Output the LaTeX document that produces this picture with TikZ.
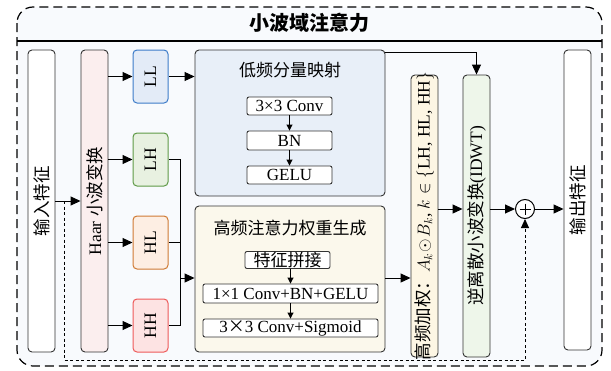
\documentclass[tikz,border=0pt]{standalone}
\usepackage{fontspec}
\setmainfont{Liberation Serif}
\newfontfamily\cjk{Noto Sans CJK SC}
\usetikzlibrary{arrows.meta,calc}
\definecolor{bgc}{HTML}{F8FAFD}
\definecolor{haarc}{HTML}{FBEEEE}
\definecolor{llf}{HTML}{E3EBF7}\definecolor{lld}{HTML}{3D7CC9}
\definecolor{lhf}{HTML}{E8F1E1}\definecolor{lhd}{HTML}{5F9A46}
\definecolor{hlf}{HTML}{FDEEE3}\definecolor{hld}{HTML}{CF7A34}
\definecolor{hhf}{HTML}{FDE3E3}\definecolor{hhd}{HTML}{EE5A5A}
\definecolor{lowf}{HTML}{E8EFF8}
\definecolor{highf}{HTML}{FBF8EC}
\definecolor{wtf}{HTML}{FDF6E4}
\definecolor{idf}{HTML}{EEF6EA}
\definecolor{edge}{HTML}{333333}
\begin{document}
\begin{tikzpicture}[x=1pt,y=-1pt,
  txt/.style={font=\fontsize{17}{20}\selectfont},
  basebox/.style={draw=edge, line width=0.9pt, rounded corners=4pt, inner sep=0pt},
  vbox/.style={basebox, minimum width=27pt, minimum height=#1},
  vlab/.style={rotate=90, font=\fontsize{17.5}{20}\selectfont, inner sep=0pt},
  subband/.style={basebox, line width=1pt, minimum width=35pt, minimum height=53pt},
  bigbox/.style={basebox, minimum width=190pt, minimum height=146pt},
  opbox/.style={basebox, rounded corners=2pt, fill=white, font=\fontsize{17}{19}\selectfont},
  arr/.style={-{Triangle[length=10pt,width=9pt]}, line width=1pt, draw=black},
  sarr/.style={-{Triangle[length=6pt,width=6pt]}, line width=0.9pt, draw=black},
  skip/.style={dash pattern=on 3pt off 2.5pt, line width=0.9pt}
]
\useasboundingbox (0,0) rectangle (611,370);
% frame
\draw[fill=bgc, draw=black, line width=1.2pt, dash pattern=on 9pt off 5pt, rounded corners=16pt]
  (17,7) rectangle (602,366);
\draw[line width=1.2pt] (17,41) -- (602,41);
\node[font=\cjk\bfseries\fontsize{20}{24}\selectfont] (title) at (309.5,23) {小波域注意力};

% input / haar / output
\node[vbox=302pt, fill=white, label={[vlab]center:{\cjk 输入特征}}] (in) at (41.5,201) {};
\node[vbox=302pt, fill=haarc, label={[vlab]center:{Haar {\cjk 小波变换}}}] (haar) at (94.5,201) {};
\node[vbox=300pt, fill=white, label={[vlab]center:{\cjk 输出特征}}] (out) at (577.5,200) {};

% subbands
\node[subband, draw=lld, fill=llf, label={[vlab]center:LL}] (ll) at (150.5,76.5) {};
\node[subband, draw=lhd, fill=lhf, label={[vlab]center:LH}] (lh) at (150.5,159.5) {};
\node[subband, draw=hld, fill=hlf, label={[vlab]center:HL}] (hl) at (150.5,242.5) {};
\node[subband, draw=hhd, fill=hhf, label={[vlab]center:HH}] (hh) at (150.5,325.5) {};

% low-frequency block
\node[bigbox, fill=lowf] (low) at (290,123) {};
\node[font=\cjk\fontsize{17}{20}\selectfont] (lowt) at (290,70) {低频分量映射};
\node[opbox, minimum width=85pt, minimum height=18pt] (c1) at (289.5,106) {3×3 Conv};
\node[opbox, minimum width=85pt, minimum height=19pt] (bn) at (289.5,140.5) {BN};
\node[opbox, minimum width=85pt, minimum height=18pt] (ge) at (289.5,175) {GELU};
\draw[sarr] (c1) -- (bn);
\draw[sarr] (bn) -- (ge);

% high-frequency block
\node[bigbox, fill=highf] (high) at (290,279) {};
\node[font=\cjk\fontsize{17}{20}\selectfont] (hight) at (290,228) {高频注意力权重生成};
\node[opbox, minimum width=85pt, minimum height=17pt, font=\cjk\fontsize{17}{20}\selectfont] (cat) at (287.5,260) {特征拼接};
\node[opbox, minimum width=175pt, minimum height=19pt] (c2) at (290.5,293.5) {1×1 Conv+BN+GELU};
\node[opbox, minimum width=175pt, minimum height=18pt] (c3) at (290.5,328) {3{\cjk ×}3 Conv+Sigmoid};
\draw[sarr] (cat.south -| c2) -- (c2);
\draw[sarr] (c2) -- (c3);

% weighting / IDWT
\node[vbox=282pt, fill=wtf, label={[vlab]center:{{\cjk 高频加权：}$A_k\!\odot\! B_k$, $k\in\{$LH, HL, HH$\}$}}] (wt) at (424.5,216) {};
\node[vbox=282pt, fill=idf, label={[vlab]center:{{\cjk 逆离散小波变换}(IDWT)}}] (idwt) at (476.5,216) {};

% sum
\node[circle, draw=black, line width=1pt, fill=white, minimum size=19pt, inner sep=0pt] (plus) at (525,209) {};
\draw[line width=1pt] ($(plus.center)+(-5.5,0)$) -- ($(plus.center)+(5.5,0)$);
\draw[line width=1pt] ($(plus.center)+(0,-5.5)$) -- ($(plus.center)+(0,5.5)$);

% connectors
\coordinate (sp) at (64,201);
\coordinate (sb) at (64,360);
\coordinate (mx) at (180,278);
\draw[arr] (in.east) -- (haar.west);
\draw[arr] (haar.east |- ll) -- (ll.west);
\draw[arr] (haar.east |- lh) -- (lh.west);
\draw[arr] (haar.east |- hl) -- (hl.west);
\draw[arr] (haar.east |- hh) -- (hh.west);
\draw[arr] (ll.east) -- (low.west |- ll.east);
\draw[line width=1pt] (lh.east) -- (lh.east -| mx) -- (hh.east -| mx) -- (hh.east);
\draw[line width=1pt] (hl.east) -- (hl.east -| mx);
\draw[arr] (mx) -- (high.west |- mx);
\draw[arr] ($(low.north east)+(0,3)$) -| (idwt.north);
\draw[arr] (high.east |- mx) -- (wt.west |- mx);
\draw[arr] (wt.east |- plus) -- (idwt.west |- plus);
\draw[arr] (idwt.east |- plus) -- (plus.west);
\draw[arr] (plus.east) -- (out.west |- plus);
\draw[skip, -{Triangle[length=9pt,width=8pt]}] (sp) -- (sb) -| (plus.south);
\end{tikzpicture}
\end{document}
